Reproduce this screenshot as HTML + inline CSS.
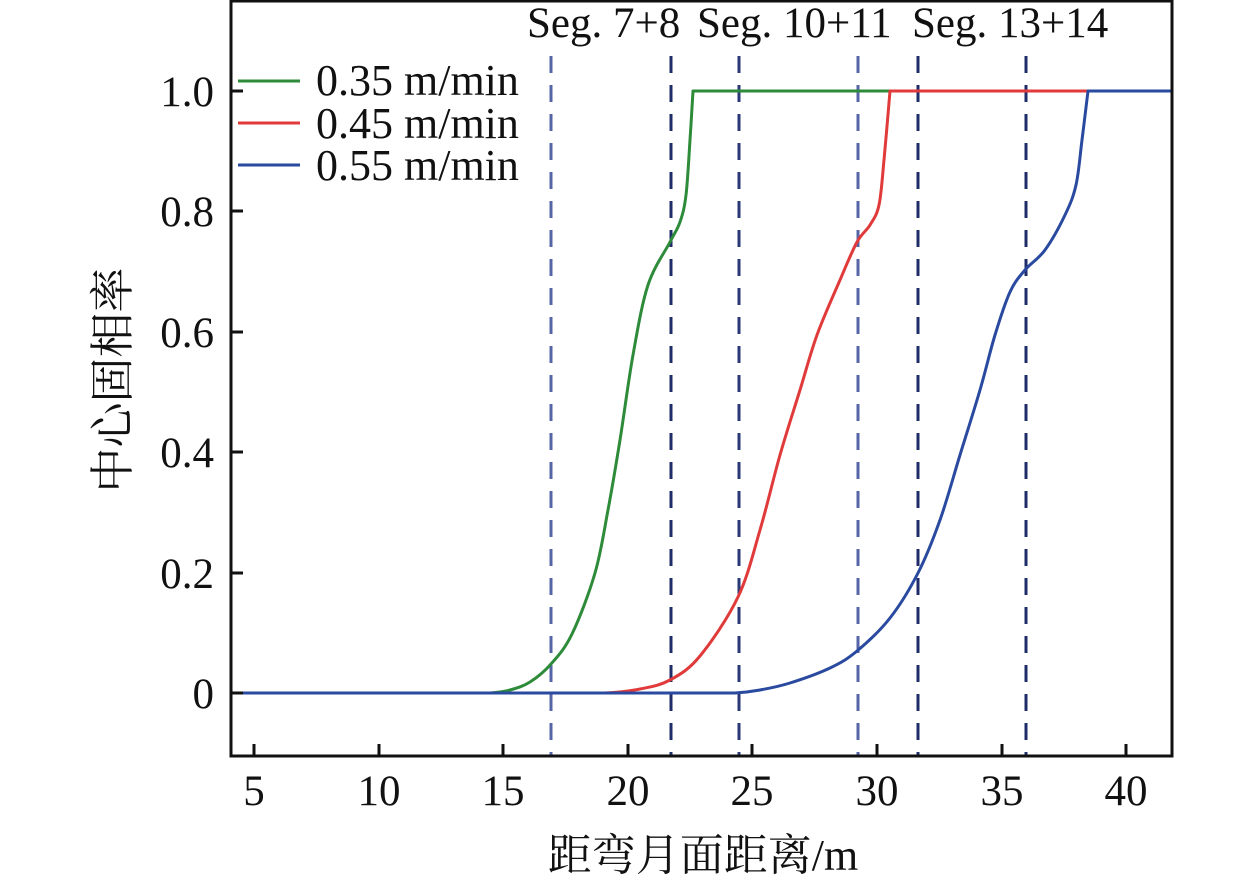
<!DOCTYPE html>
<html><head><meta charset="utf-8"><style>
body{margin:0;background:#fff}
svg text{font-family:"Liberation Serif","Noto Serif CJK SC",serif;fill:#111}
</style></head><body>
<svg id="s" width="1259" height="886" viewBox="0 0 1259 886" xmlns="http://www.w3.org/2000/svg">
<g stroke-dasharray="17,12" stroke-width="3">
<line x1="551" y1="56" x2="551" y2="756" stroke="#5565a8"/>
<line x1="671" y1="56" x2="671" y2="756" stroke="#1f2c6a"/>
<line x1="739" y1="56" x2="739" y2="756" stroke="#2a3878"/>
<line x1="858" y1="56" x2="858" y2="756" stroke="#5565a8"/>
<line x1="918" y1="56" x2="918" y2="756" stroke="#1f2c6a"/>
<line x1="1026" y1="56" x2="1026" y2="756" stroke="#1f2c6a"/>
</g>
<g fill="none" stroke-width="3" stroke-linejoin="round">
<path id="g" stroke="#2e8b3a"/>
<path id="r" stroke="#e03a3a"/>
<path id="b" stroke="#2a4aa0"/>
</g>
<rect x="231" y="1" width="941" height="755" fill="none" stroke="#111" stroke-width="3"/>
<g stroke="#111" stroke-width="3">
<line x1="254" y1="756" x2="254" y2="744"/><line x1="379" y1="756" x2="379" y2="744"/>
<line x1="503" y1="756" x2="503" y2="744"/><line x1="628" y1="756" x2="628" y2="744"/>
<line x1="752" y1="756" x2="752" y2="744"/><line x1="877" y1="756" x2="877" y2="744"/>
<line x1="1002" y1="756" x2="1002" y2="744"/><line x1="1126" y1="756" x2="1126" y2="744"/>
<line x1="231" y1="693" x2="243" y2="693"/><line x1="231" y1="573" x2="243" y2="573"/>
<line x1="231" y1="452" x2="243" y2="452"/><line x1="231" y1="332" x2="243" y2="332"/>
<line x1="231" y1="211" x2="243" y2="211"/><line x1="231" y1="91" x2="243" y2="91"/>
</g>
<g font-size="43" text-anchor="middle">
<text x="254" y="805">5</text><text x="379" y="805">10</text><text x="503" y="805">15</text>
<text x="628" y="805">20</text><text x="752" y="805">25</text><text x="877" y="805">30</text>
<text x="1002" y="805">35</text><text x="1126" y="805">40</text>
</g>
<g font-size="43" text-anchor="end">
<text x="214" y="708">0</text><text x="214" y="588">0.2</text><text x="214" y="467">0.4</text>
<text x="214" y="347">0.6</text><text x="214" y="226">0.8</text><text x="214" y="106">1.0</text>
</g>
<g font-size="43">
<text x="527" y="37">Seg. 7+8</text><text x="697" y="37">Seg. 10+11</text><text x="912" y="37">Seg. 13+14</text>
</g>
<g font-size="44">
<text x="316" y="95">0.35 m/min</text><text x="316" y="138">0.45 m/min</text><text x="316" y="180">0.55 m/min</text>
</g>
<line x1="238" y1="81" x2="300" y2="81" stroke="#2e8b3a" stroke-width="3"/>
<line x1="238" y1="123" x2="300" y2="123" stroke="#e03a3a" stroke-width="3"/>
<line x1="238" y1="165" x2="300" y2="165" stroke="#2a4aa0" stroke-width="3"/>
<text x="703" y="870" font-size="44" text-anchor="middle">距弯月面距离/m</text>
<text transform="translate(128,380) rotate(-90)" font-size="45" text-anchor="middle">中心固相率</text>
</svg>
<script>
function cr(p){var d="";for(var i=0;i<p.length-1;i++){var a=p[i-1]||[2*p[i][0]-p[i+1][0],p[i][1]],b=p[i],c=p[i+1],e=p[i+2]||c;
d+=" C"+(b[0]+(c[0]-a[0])/6)+","+(b[1]+(c[1]-a[1])/6)+" "+(c[0]-(e[0]-b[0])/6)+","+(c[1]-(e[1]-b[1])/6)+" "+c[0]+","+c[1];}return d;}
var G=[[490,693],[510,690],[530,682],[551,664],[572,634],[595,573],[608,510],[620,440],[633,355],[648,285],[670,242],[680,222],[686,195],[690,140],[693,91]];
var R=[[605,693],[640,689],[670,680],[700,656],[738,597],[760,530],[780,455],[800,390],[817,335],[840,280],[857,242],[870,225],[879,205],[884,160],[890,91]];
var B=[[735,693],[760,690],[790,683],[830,668],[857,651],[890,618],[918,573],[940,520],[960,455],[980,390],[995,335],[1010,292],[1025,270],[1045,250],[1065,215],[1076,185],[1082,140],[1088,91]];
document.getElementById("g").setAttribute("d","M231,693 L490,693"+cr(G)+" L890,91");
document.getElementById("r").setAttribute("d","M605,693"+cr(R)+" L1088,91");
document.getElementById("b").setAttribute("d","M231,693 L735,693"+cr(B)+" L1172,91");
</script>
</body></html>
